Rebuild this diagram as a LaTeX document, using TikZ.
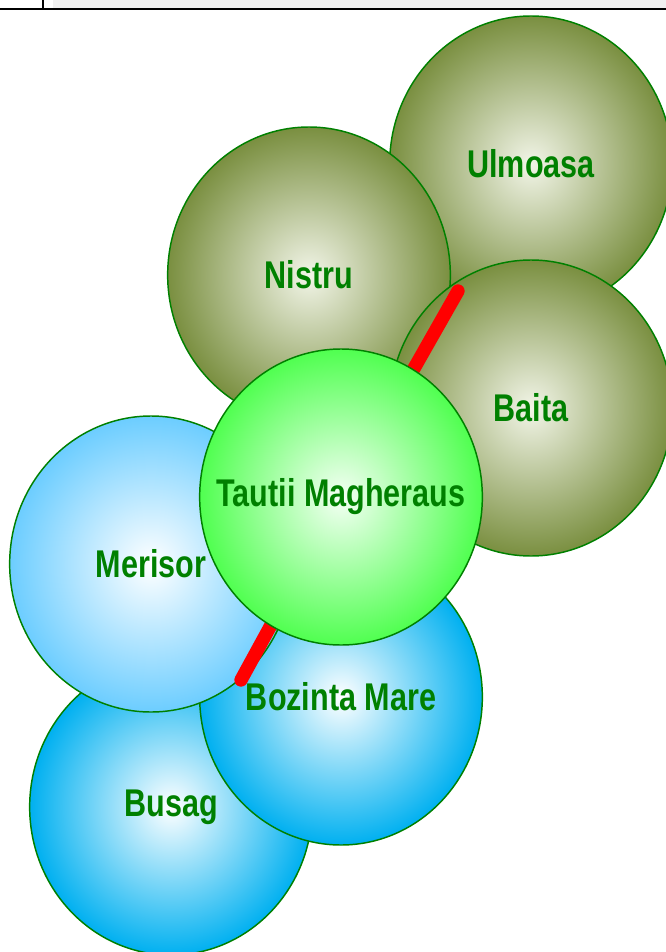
\documentclass[tikz,border=0pt]{standalone}
\usepackage{fontspec}
\newfontfamily\bubblefont[FakeStretch=0.79]{Liberation Sans}
\usetikzlibrary{shapes.geometric}
\definecolor{olivebub}{RGB}{122,143,64}
\definecolor{olivein}{RGB}{242,245,232}
\definecolor{bluebub}{RGB}{0,176,240}
\definecolor{lightbub}{RGB}{108,205,255}
\definecolor{limebub}{RGB}{80,255,80}
\definecolor{labelgreen}{RGB}{0,128,0}

\begin{document}
\begin{tikzpicture}[x=0.75pt,y=-0.75pt,
    every node/.style={font=\bubblefont\bfseries\fontsize{29}{30}\selectfont, text=labelgreen},
    bubble/.style={draw=labelgreen, line width=1.1pt, ellipse, inner sep=0pt, inner xsep=-25pt, minimum width=212pt, minimum height=222pt, shading=radial},
    olive/.style={bubble, inner color=olivein, outer color=olivebub},
    sky/.style={bubble, inner color=white, outer color=bluebub},
    pale/.style={bubble, inner color=white, outer color=lightbub},
    lime/.style={bubble, inner color=green!4, outer color=limebub},
    link/.style={red, line width=10pt, line cap=round}]
    \useasboundingbox (0,0) rectangle (666,952);
    % top bar
    \fill[gray!12] (53,0) rectangle (666,8);
    \draw[line width=0.8pt] (0,9) -- (666,9);
    \draw[line width=1.5pt] (43,0) -- (43,9);
    % bubbles
    \node[olive] (ulmoasa) at (531,164) {Ulmoasa};
    \node[olive] (nistru) at (309,275) {Nistru};
    \node[olive] (baita) at (531,408) {Baita};
    \node[sky] (busag) at (171,807) {Busag};
    \node[sky] (bozinta) at (341,697) {Bozinta Mare};
    \node[pale] (merisor) at (151,564) {Merisor};
    \coordinate (topend) at (458,291);
    \coordinate (lowend) at (241,680);
    \coordinate (tmid) at (341,497);
    \draw[link] (topend) -- (tmid);
    \draw[link] (lowend) -- (tmid);
    \node[lime] (tautii) at (tmid) {Tautii Magheraus};
\end{tikzpicture}
\end{document}
